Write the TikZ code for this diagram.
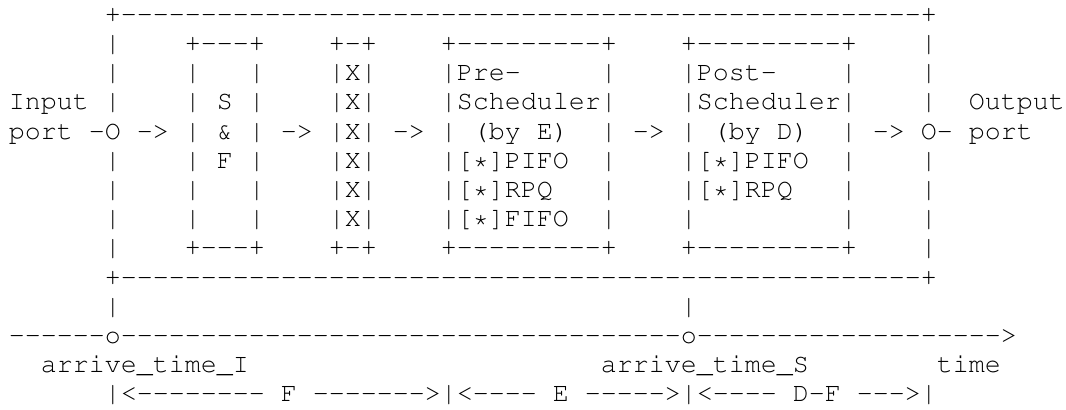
\documentclass[tikz,border=0pt]{standalone}
\usepackage[T1]{fontenc}
\usepackage{courier}
\usepackage{tikz}

% a run of hyphens, one group each so the font makes no dashes of them
\newcommand\dashrun[1]{\foreach\i in {1,...,#1}{-}}

\begin{document}
\begin{tikzpicture}[x=6pt,y=-10.95pt,
    chars/.style={inner sep=0pt,anchor=base west,
      font=\ttfamily\fontsize{10pt}{10.95pt}\selectfont}]
  \useasboundingbox (-0.519,-0.767) rectangle (66.107,13.274);

  % outer frame of the node
  \node[chars] (frametop) at (6,0) {+\dashrun{50}+};
  \node[chars] (framebot) at (6,9) {+\dashrun{50}+};
  \foreach \r in {1,2,3,5,6,7,8} {
    \node[chars] (left-\r) at (6,\r) {|};
    \node[chars] (right-\r) at (57,\r) {|};
  }

  % inner boxes: tops and bottoms
  \foreach \r in {1,8} {
    \node[chars] (sf-\r) at (11,\r) {+\dashrun{3}+};
    \node[chars] (xq-\r) at (20,\r) {+-+};
    \node[chars] (pre-\r) at (27,\r) {+\dashrun{9}+};
    \node[chars] (post-\r) at (42,\r) {+\dashrun{9}+};
  }
  % inner boxes: sides
  \foreach \r in {2,...,7} {
    \foreach \c in {11,15,27,37,42,52}
      \node[chars] (bar-\c-\r) at (\c,\r) {|};
    \node[chars] (xq-\r) at (20,\r) {|X|};
  }

  % contents
  \node[chars] (sfs) at (13,3) {S};
  \node[chars] (sfa) at (13,4) {\&};
  \node[chars] (sff) at (13,5) {F};
  \node[chars] (pre) at (28,2) {Pre-};
  \node[chars] (presch) at (28,3) {Scheduler};
  \node[chars] (preby) at (29,4) {(by E)};
  \node[chars] (prepifo) at (28,5) {[*]PIFO};
  \node[chars] (prerpq) at (28,6) {[*]RPQ};
  \node[chars] (prefifo) at (28,7) {[*]FIFO};
  \node[chars] (post) at (43,2) {Post-};
  \node[chars] (postsch) at (43,3) {Scheduler};
  \node[chars] (postby) at (44,4) {(by D)};
  \node[chars] (postpifo) at (43,5) {[*]PIFO};
  \node[chars] (postrpq) at (43,6) {[*]RPQ};

  % ports and flow
  \node[chars] (inport) at (0,3) {Input};
  \node[chars] (inport2) at (0,4) {port -O ->};
  \node[chars] (arr1) at (17,4) {->};
  \node[chars] (arr2) at (24,4) {->};
  \node[chars] (arr3) at (39,4) {->};
  \node[chars] (outport2) at (54,4) {-> O- port};
  \node[chars] (outport) at (60,3) {Output};

  % time line
  \node[chars] (tickI) at (6,10) {|};
  \node[chars] (tickS) at (42,10) {|};
  \node[chars] (timeline) at (0,11) {\dashrun{6}o\dashrun{35}o\dashrun{19}>};
  \node[chars] (arrI) at (2,12) {arrive\_time\_I};
  \node[chars] (arrS) at (37,12) {arrive\_time\_S};
  \node[chars] (time) at (58,12) {time};
  \node[chars] (spans) at (6,13)
    {|<\dashrun{8} F \dashrun{7}>|<\dashrun{4} E \dashrun{5}>|<\dashrun{4} D-F \dashrun{3}>|};
\end{tikzpicture}
\end{document}
